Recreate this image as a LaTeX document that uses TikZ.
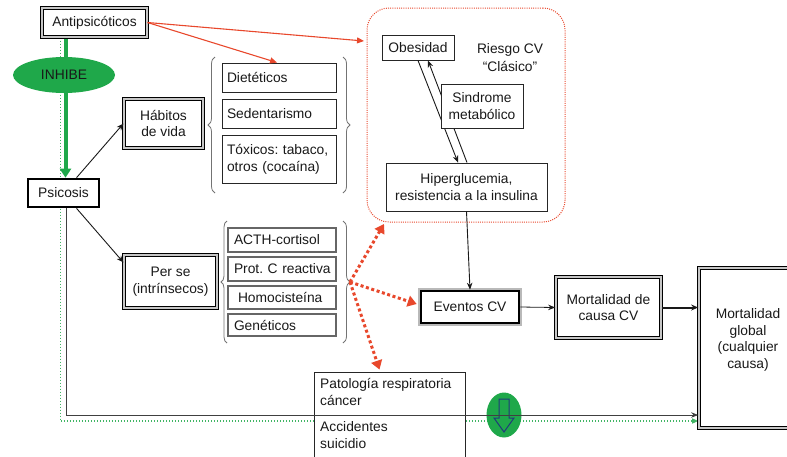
\documentclass[tikz,border=0pt]{standalone}
\usepackage{fontspec}
\setmainfont{Liberation Sans}
\usetikzlibrary{arrows.meta,decorations.pathreplacing,shapes.geometric,calc}
\definecolor{redA}{HTML}{E8482C}
\definecolor{greenA}{HTML}{1FA84A}
\definecolor{navyA}{HTML}{1F3A7A}
\newcommand\dgfont{\fontsize{13.8}{16.8}\selectfont\frenchspacing}
\pgfdeclarelayer{bg}
\pgfsetlayers{bg,main}
\begin{document}
\begin{tikzpicture}[x=1pt,y=-1pt,
  every node/.style={font=\dgfont, text=black!90},
  box/.style={draw=black!85, line width=0.9pt, fill=white, inner sep=0pt, align=center},
  lbox/.style={box, align=left, inner xsep=5pt},
  gbox/.style={draw=black!60, line width=1.1pt, fill=white, inner sep=0pt, inner xsep=6pt, align=left},
  dbl/.style={draw=black, line width=1pt, double=gray!45, double distance=1.3pt, fill=white, inner sep=0pt, align=center},
  heavy/.style={draw=black, line width=1.7pt, double=gray!45, double distance=1.3pt, fill=white, inner sep=0pt, align=center},
  thickbox/.style={draw=black, line width=2.6pt, fill=white, inner sep=0pt, align=center},
  evbox/.style={thickbox, preaction={draw=gray!55, line width=5.6pt}},
  blk/.style={draw=black!90, line width=0.9pt, -{Stealth[length=7pt,width=5.5pt]}},
  redline/.style={draw=redA, line width=1.1pt, -{Triangle[length=7pt,width=6pt]}},
  reddot/.style={draw=redA, line width=3pt, dash pattern=on 3pt off 2.6pt, -{Triangle[length=9pt,width=11pt]}},
  gbrace/.style={draw=black!55, line width=0.8pt, decorate, decoration={brace, amplitude=7pt}},
  gdot/.style={draw=greenA!85, line width=1.4pt, dash pattern=on 1.4pt off 1.6pt, -{Triangle[length=6pt,width=5pt]}},
  garrow/.style={draw=greenA, line width=4pt, -{Triangle[length=9pt,width=11pt]}},
  plainline/.style={draw=black!75, line width=0.9pt, -{Stealth[length=7pt,width=5.5pt]}},
]
\useasboundingbox (0,0) rectangle (787,456);

% red dotted rounded group
\node[draw=redA, line width=1pt, dash pattern=on 1pt off 1.2pt, rounded corners=22pt,
      minimum width=198pt, minimum height=214pt, inner sep=0pt] (rbox) at (466,115) {};

% main nodes
\node[dbl, minimum width=105pt, minimum height=29pt] (anti) at (94.5,22.5) {Antipsicóticos};
\node[thickbox, minimum width=71pt, minimum height=28pt] (psic) at (63.5,193) {Psicosis};
\node[dbl, minimum width=79pt, minimum height=49pt] (habitos) at (163.5,123.5) {Hábitos\\de vida};
\node[dbl, minimum width=93pt, minimum height=53pt] (perse) at (170.5,281.5) {Per se\\(intrínsecos)};

\node[lbox, text width=104pt, minimum height=29pt] (diet) at (279,77.5) {Dietéticos};
\node[lbox, text width=104pt, minimum height=29pt] (sed) at (279,113.5) {Sedentarismo};
\node[lbox, text width=104pt, minimum height=48pt] (tox) at (279,159) {Tóxicos: tabaco,\\otros (cocaína)};

\node[gbox, text width=96pt, minimum height=24pt] (acth) at (282,240) {\mbox{ACTH-cortisol}};
\node[gbox, text width=96pt, minimum height=24pt] (prot) at (282,269) {\mbox{Prot. C reactiva}};
\node[gbox, text width=96pt, minimum height=23pt] (homo) at (282,297.5) {\mbox{\hspace{4pt}Homocisteína}};
\node[gbox, text width=96pt, minimum height=22pt] (gen) at (282,325) {\mbox{Genéticos}};

\draw[gbrace] (215,193) -- (215,57);
\draw[gbrace] (343,57) -- (343,193);
\draw[gbrace, decoration={brace, amplitude=6pt}] (227,343) -- (227,221);
\draw[gbrace] (343,221) -- (343,343);
\coordinate (g2tip) at (350,282);

\node[box, minimum width=72pt, minimum height=25pt] (obes) at (418,47.5) {Obesidad};
\node[align=center, inner sep=0pt, font=\fontsize{13.8}{18}\selectfont] (riesgo) at (510,58) {Riesgo CV\\“Clásico”};
\node[box, minimum width=161pt, minimum height=48pt] (hiper) at (466.5,187) {Hiperglucemia,\\resistencia a la insulina};

\node[evbox, minimum width=98pt, minimum height=32pt] (evt) at (470,307) {Eventos CV};
\node[heavy, minimum width=105pt, minimum height=61pt] (mortcv) at (608.5,307.5) {Mortalidad de\\causa CV};
\node[heavy, minimum width=98pt, minimum height=160pt] (mortgl) at (748,348) {};
\node[align=center, inner sep=0pt] (mortgltxt) at (748,340) {Mortalidad\\global\\(cualquier\\causa)};

\node[box, minimum width=151pt, minimum height=98pt] (pat) at (389.5,421) {};
\node[anchor=north west, align=left, inner sep=0pt] (pattxt1) at (320,378) {Patología respiratoria\\cáncer};
\node[anchor=north west, align=left, inner sep=0pt] (pattxt2) at (320,421) {Accidentes\\suicidio};

% background connectors
\begin{pgfonlayer}{bg}
  \draw[gdot] ($(anti.south)+(-34,0)$) |- ($(mortgl.west)+(0,73)$);
  \draw[garrow] ($(anti.south)+(-29,0)$) -- ($(psic.north)+(2,0)$);
\end{pgfonlayer}

\node[ellipse, fill=greenA, minimum width=102pt, minimum height=36pt, inner sep=0pt] (inhibe) at (64,75) {INHIBE};

% obesidad <-> hiperglucemia, behind sindrome box
\draw[blk] (obes.south) -- ($(hiper.north)+(-8.5,0)$);
\draw[blk] ($(hiper.north)+(0.5,0)$) -- ($(obes.south)+(10,0)$);
\node[box, minimum width=82pt, minimum height=44pt] (sind) at (482,106) {Sindrome\\metabólico};

% green circle with arrow
\node[ellipse, fill=greenA, minimum width=35pt, minimum height=45pt, inner sep=0pt] (circ) at (504,415) {};
\draw[navyA, line width=1pt, line join=miter, shift={(circ.center)}]
  (-5,-16) -- (5,-16) -- (5,3) -- (10,3) -- (0,17) -- (-10,3) -- (-5,3) -- cycle;

% black line psicosis -> mortalidad global
\draw[plainline] ($(psic.south)+(2.5,0)$) |- ($(mortgl.west)+(0,67)$);

% black arrows
\draw[blk] ($(psic.north)+(13,0)$) -- (habitos.west);
\draw[blk] ($(psic.south)+(13,0)$) -- ($(perse.west)+(0,-19)$);
\draw[blk] (hiper.south) -- (evt.north);
\draw[blk, line width=0.8pt] (evt.east) -- (mortcv.west);
\draw[blk, line width=2pt, -{Stealth[length=7pt,width=6pt]}] (mortcv.east) -- (mortgl.west |- mortcv.east);

% red arrows
\coordinate (rin) at (364,41);
\draw[redline] (anti.east) -- (rin);
\draw[redline] (anti.east) -- ($(diet.north)+(-2,0)$);

% red dotted arrows
\coordinate (rcorner) at (384,224);
\draw[reddot] (g2tip) -- (rcorner);
\draw[reddot] (g2tip) -- ($(evt.west)+(-3,-3)$);
\draw[reddot] (g2tip) -- ($(pat.north)+(-10,-2)$);
\end{tikzpicture}
\end{document}
